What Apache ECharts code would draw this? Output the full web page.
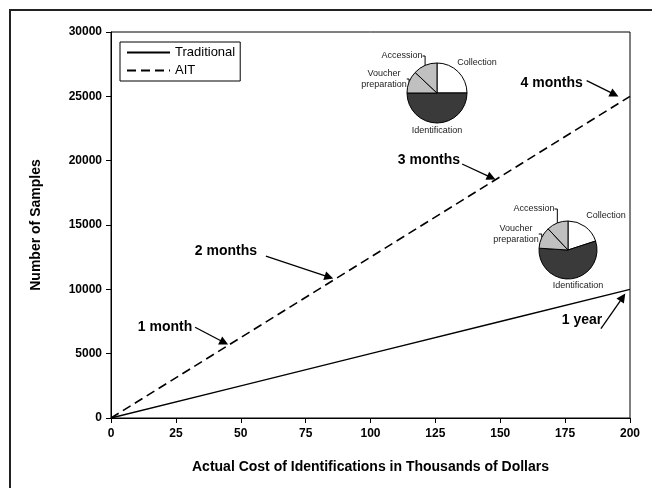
<!DOCTYPE html>
<html><head><meta charset="utf-8">
<script src="https://cdn.jsdelivr.net/npm/echarts@6/dist/echarts.min.js"></script>
<style>html,body{margin:0;padding:0;background:#fff}#c{width:652px;height:488px}</style>
</head><body><div id="c"></div>
<script>
// ---- data ----
var costs = [0, 50, 100, 150, 200];
var traditional = [0, 2500, 5000, 7500, 10000];
var ait = [0, 6250, 12500, 18750, 25000];
var xTicks = [0, 25, 50, 75, 100, 125, 150, 175, 200];
var yTicks = [0, 5000, 10000, 15000, 20000, 25000, 30000];
var pieNames = ['Collection', 'Identification', 'Voucher preparation', 'Accession'];
var aitShares = [25, 50, 12, 13];
var tradShares = [20, 56, 12, 12];
// annotation texts: [label, x, y]
var aitLabels = [
  ['1 month', 20.8, 7070],
  ['2 months', 44.3, 12980],
  ['3 months', 122.5, 20050],
  ['4 months', 169.8, 26030]
];
var tradLabels = [
  ['1 year', 181.5, 7600]
];
// annotation arrows: [fromX, fromY, toX, toY]
var aitArrows = [
  [32.4, 7050, 43.6, 5870],
  [59.7, 12590, 84.0, 10950],
  [135.3, 19740, 146.6, 18680],
  [183.3, 26215, 194.0, 25150]
];
var tradArrows = [
  [188.8, 6950, 197.2, 9380]
];

var FONT = 'Liberation Sans, Arial, sans-serif';
var chart = echarts.init(document.getElementById('c'), null, {renderer: 'canvas'});

function zip(xs, ys) { return xs.map(function (x, i) { return [x, ys[i]]; }); }
function arrows(arr) {
  return arr.map(function (a) { return [{coord: [a[0], a[1]]}, {coord: [a[2], a[3]]}]; });
}
function texts(arr) {
  return arr.map(function (t) { return {name: t[0], coord: [t[1], t[2]]}; });
}
function pieData(shares) {
  var colors = ['#ffffff', '#3a3a3a', '#c0c0c0', '#c0c0c0'];
  return pieNames.map(function (n, i) {
    return {name: n, value: shares[i], itemStyle: {color: colors[i]},
      labelLine: {show: i >= 2}};
  });
}
var topPieLabels = [
  {x: 477, y: 63, align: 'center', verticalAlign: 'middle'},
  {x: 437, y: 131, align: 'center', verticalAlign: 'middle'},
  {x: 384, y: 79, align: 'center', verticalAlign: 'middle'},
  {x: 402, y: 56, align: 'center', verticalAlign: 'middle'}
];
var botPieLabels = [
  {x: 606, y: 216, align: 'center', verticalAlign: 'middle'},
  {x: 578, y: 286, align: 'center', verticalAlign: 'middle'},
  {x: 516, y: 234, align: 'center', verticalAlign: 'middle'},
  {x: 534, y: 209, align: 'center', verticalAlign: 'middle'}
];
function pieSeries(shares, center, radius, labels) {
  return {
    type: 'pie', center: center, radius: radius, startAngle: 90, clockwise: true,
    silent: true, animation: false, z: 5,
    itemStyle: {borderColor: '#000', borderWidth: 1},
    label: {show: true, fontSize: 9, fontFamily: FONT, color: '#222', lineHeight: 11,
      formatter: function (p) { return p.name.replace(' ', '\n'); }},
    labelLine: {lineStyle: {color: '#000', width: 1}, length: 4, length2: 4},
    labelLayout: function (p) { return labels[p.dataIndex]; },
    data: pieData(shares)
  };
}
function markLineOpt(arr) {
  return {
    silent: true, animation: false,
    symbol: ['none', 'triangle'], symbolSize: 9,
    itemStyle: {color: '#000'},
    lineStyle: {type: 'solid', color: '#000', width: 1.3},
    label: {show: false},
    data: arrows(arr)
  };
}
function markPointOpt(arr) {
  return {
    silent: true, animation: false,
    symbol: 'rect', symbolSize: 1, itemStyle: {color: 'rgba(0,0,0,0)'},
    label: {show: true, position: 'inside', formatter: '{b}',
      fontFamily: FONT, fontWeight: 'bold', fontSize: 14, color: '#000'},
    data: texts(arr)
  };
}

chart.setOption({
  animation: false,
  backgroundColor: '#fff',
  textStyle: {fontFamily: FONT},
  grid: {left: 111, top: 32, width: 519, height: 386, show: true,
    borderColor: '#000', borderWidth: 1, backgroundColor: '#fff'},
  legend: {
    orient: 'vertical', left: 120, top: 42, itemWidth: 43, itemHeight: 10, itemGap: 5,
    padding: [4, 5, 4, 6], borderColor: '#000', borderWidth: 1,
    itemStyle: {opacity: 0},
    textStyle: {fontFamily: FONT, fontSize: 13, color: '#000'},
    data: ['Traditional', 'AIT']
  },
  xAxis: {
    type: 'value', min: 0, max: 200, interval: 25,
    name: 'Actual Cost of Identifications in Thousands of Dollars',
    nameLocation: 'middle', nameGap: 42,
    nameTextStyle: {fontFamily: FONT, fontWeight: 'bold', fontSize: 14, color: '#000'},
    axisLine: {lineStyle: {color: '#000', width: 1}},
    axisTick: {show: true, inside: false, length: 5, lineStyle: {color: '#000'}},
    axisLabel: {fontFamily: FONT, fontWeight: 'bold', fontSize: 12, color: '#000', margin: 10,
      formatter: function (v) { return xTicks.indexOf(v) >= 0 ? String(v) : ''; }},
    splitLine: {show: false}
  },
  yAxis: {
    type: 'value', min: 0, max: 30000, interval: 5000,
    name: 'Number of Samples', nameLocation: 'middle', nameGap: 68,
    nameTextStyle: {fontFamily: FONT, fontWeight: 'bold', fontSize: 14, color: '#000'},
    axisLine: {show: true, lineStyle: {color: '#000', width: 1}},
    axisTick: {show: true, inside: false, length: 5, lineStyle: {color: '#000'}},
    axisLabel: {fontFamily: FONT, fontWeight: 'bold', fontSize: 12, color: '#000', margin: 9,
      formatter: function (v) { return yTicks.indexOf(v) >= 0 ? String(v) : ''; }},
    splitLine: {show: false}
  },
  graphic: [{
    type: 'rect', silent: true, z: -10,
    shape: {x: 10, y: 10, width: 700, height: 700},
    style: {fill: 'none', stroke: '#222', lineWidth: 2}
  }],
  series: [
    {name: 'Traditional', type: 'line', data: zip(costs, traditional), showSymbol: false,
      symbol: 'none', lineStyle: {color: '#000', width: 1.3, type: 'solid'},
      itemStyle: {color: '#000'},
      markLine: markLineOpt(tradArrows), markPoint: markPointOpt(tradLabels)},
    {name: 'AIT', type: 'line', data: zip(costs, ait), showSymbol: false,
      symbol: 'none', lineStyle: {color: '#000', width: 1.6, type: [9, 5]},
      itemStyle: {color: '#000'},
      markLine: markLineOpt(aitArrows), markPoint: markPointOpt(aitLabels)},
    pieSeries(aitShares, [437, 93], 30, topPieLabels),
    pieSeries(tradShares, [568, 250], 29, botPieLabels)
  ]
});
</script></body></html>
